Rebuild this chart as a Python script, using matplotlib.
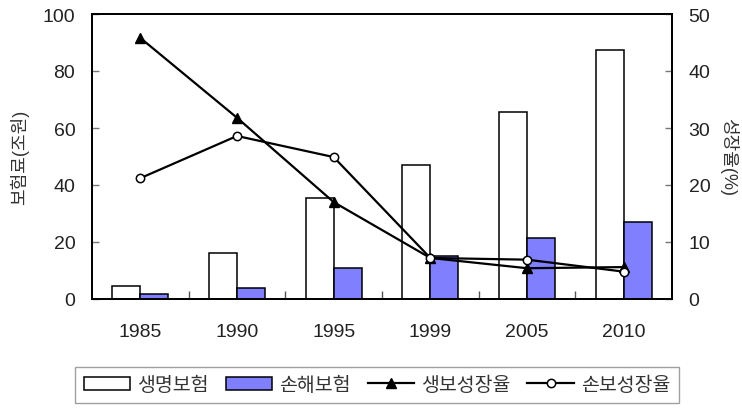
import matplotlib
matplotlib.use("Agg")
import matplotlib.pyplot as plt
import numpy as np
from matplotlib.ticker import FixedLocator

plt.rcParams['font.family'] = ['Liberation Sans', 'Noto Sans CJK KR', 'DejaVu Sans']

years = ['1985', '1990', '1995', '1999', '2005', '2010']
life_premium = [4.5, 16.3, 35.5, 47.0, 65.7, 87.2]
nonlife_premium = [1.6, 3.7, 10.9, 15.1, 21.4, 27.1]
life_growth = [45.8, 31.8, 17.0, 7.2, 5.4, 5.6]
nonlife_growth = [21.2, 28.6, 24.9, 7.2, 6.9, 4.8]
labels = ['생명보험', '손해보험', '생보성장율', '손보성장율']

fig = plt.figure(figsize=(7.42, 4.10), dpi=100)
ax = fig.add_axes([92/742, 1-300/410, 580/742, 285/410])
ax2 = ax.twinx()

x = np.arange(len(years))
w = 0.29
b1 = ax.bar(x - w/2, life_premium, w, facecolor='white', edgecolor='black', linewidth=1.1, label=labels[0], zorder=2)
b2 = ax.bar(x + w/2, nonlife_premium, w, facecolor='#8080FF', edgecolor='black', linewidth=1.1, label=labels[1], zorder=2)

l1, = ax2.plot(x, life_growth, color='black', lw=1.6, marker='^', markersize=7,
               markerfacecolor='black', markeredgecolor='black', label=labels[2], zorder=3)
l2, = ax2.plot(x, nonlife_growth, color='black', lw=1.6, marker='o', markersize=6,
               markerfacecolor='white', markeredgecolor='black', markeredgewidth=1.1, label=labels[3], zorder=3)

ax.set_xlim(-0.5, len(years) - 0.5)
ax.set_ylim(0, 100)
ax2.set_ylim(0, 50)
ax.set_yticks(np.arange(0, 101, 20))
ax2.set_yticks(np.arange(0, 51, 10))
ax.set_xticks(x)
ax.set_xticklabels(years)
ax.xaxis.set_minor_locator(FixedLocator(np.arange(0.5, len(years) - 0.5, 1)))

tc = '#222222'
ax.tick_params(axis='x', which='major', length=0, pad=17, labelsize=14, colors=tc)
ax.tick_params(axis='x', which='minor', direction='in', length=6, width=1, color='#555555')
ax.tick_params(axis='y', direction='in', length=5, width=1, pad=12, labelsize=14, colors=tc, color='#777777')
ax2.tick_params(axis='y', direction='in', length=5, width=1, pad=12, labelsize=14, colors=tc, color='#777777')

for a in (ax, ax2):
    for s in a.spines.values():
        s.set_linewidth(1.3)
        s.set_color('black')

ax.set_ylabel('보험료(조원)', fontsize=13, color='#333333', labelpad=10)
ax2.set_ylabel('성장율(%)', fontsize=13, color='#333333', rotation=270, labelpad=20)

leg = fig.legend([b1, b2, l1, l2], labels, loc='lower left', ncol=4,
                 bbox_to_anchor=(75/742, 1-404/410, 604/742, 46/410), mode='expand',
                 fontsize=14, frameon=True, fancybox=False, edgecolor='#888888',
                 handlelength=2.4, handleheight=0.7, handletextpad=0.35, columnspacing=0.2,
                 borderaxespad=0, borderpad=0.45)
leg.get_frame().set_linewidth(1.0)
for t in leg.get_texts():
    t.set_color('#333333')

fig.savefig('out.png', dpi=100)
